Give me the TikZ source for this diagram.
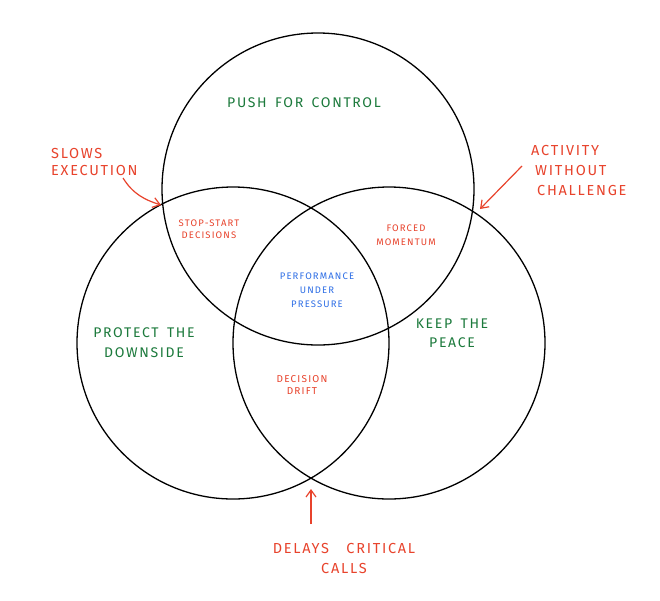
\documentclass[tikz,border=0pt]{standalone}
\usepackage{fontspec}
\usetikzlibrary{arrows.meta}
\newfontfamily\handfont[LetterSpace=12]{Fira Sans}
\definecolor{hgreen}{HTML}{1C7A3C}
\definecolor{hred}{HTML}{E8432C}
\definecolor{hblue}{HTML}{2F6FE6}
\newcommand{\wsp}{\hspace{0.6em}}
\tikzset{
  ring/.style={draw=black, line width=1.3pt},
  lbl/.style={align=center, inner sep=0pt, font=\handfont},
  glbl/.style={lbl, text=hgreen},
  rlbl/.style={lbl, text=hred},
  blbl/.style={lbl, text=hblue},
  redarrow/.style={draw=hred, line width=1.2pt, -{Straight Barb[length=7pt,width=10pt]}}
}
\begin{document}
\begin{tikzpicture}[x=1pt,y=-1pt]
\useasboundingbox (0,0) rectangle (660,600);
\fill[white] (0,0) rectangle (660,600);
% circles
\node[ring, circle, minimum size=312pt, inner sep=0pt] (top) at (318,189) {};
\node[ring, circle, minimum size=312pt, inner sep=0pt] (left) at (233,343) {};
\node[ring, circle, minimum size=312pt, inner sep=0pt] (right) at (389,343) {};
% region labels
\node[glbl, font=\handfont\fontsize{14}{20}\selectfont] (push) at (304,103) {PUSH\wsp{}FOR\wsp{}CONTROL};
\node[glbl, font=\handfont\fontsize{14}{20}\selectfont] (protect) at (144,343) {PROTECT\wsp{}THE\\DOWNSIDE};
\node[glbl, font=\handfont\fontsize{14}{19}\selectfont] (keep) at (452,333) {KEEP\wsp{}THE\\PEACE};
\node[rlbl, font=\handfont\fontsize{9.5}{12.5}\selectfont] (stop) at (209,229) {STOP-START\\DECISIONS};
\node[rlbl, font=\handfont\fontsize{9.5}{14}\selectfont] (forced) at (406,235) {FORCED\\MOMENTUM};
\node[rlbl, font=\handfont\fontsize{10}{12}\selectfont] (drift) at (302,385) {DECISION\\DRIFT};
\node[blbl, font=\handfont\fontsize{9.5}{14}\selectfont] (perf) at (317,290) {PERFORMANCE\\UNDER\\PRESSURE};
% annotations
\node[rlbl, align=left, anchor=west, font=\handfont\fontsize{14.5}{17}\selectfont] (slows) at (51,162) {SLOWS\\EXECUTION};
\node[rlbl, align=left, anchor=west, font=\handfont\fontsize{14.5}{20}\selectfont] (activity) at (531,170) {ACTIVITY\\\hspace{4pt}WITHOUT\\\hspace{6pt}CHALLENGE};
\node[rlbl, font=\handfont\fontsize{14.5}{20}\selectfont] (delays) at (344,558) {DELAYS\hspace{1.2em}CRITICAL\\CALLS};
% arrow end points
\coordinate (slowsTail) at (123,178);
\coordinate (slowsTip) at (161,205);
\coordinate (actTail) at (522,166);
\coordinate (actTip) at (480,209);
\coordinate (delTail) at (311,524);
\coordinate (delTip) at (311,489);
\draw[redarrow] (slowsTail) .. controls (133,194) and (145,200) .. (slowsTip);
\draw[redarrow] (actTail) -- (actTip);
\draw[redarrow] (delTail) -- (delTip);
\end{tikzpicture}
\end{document}
